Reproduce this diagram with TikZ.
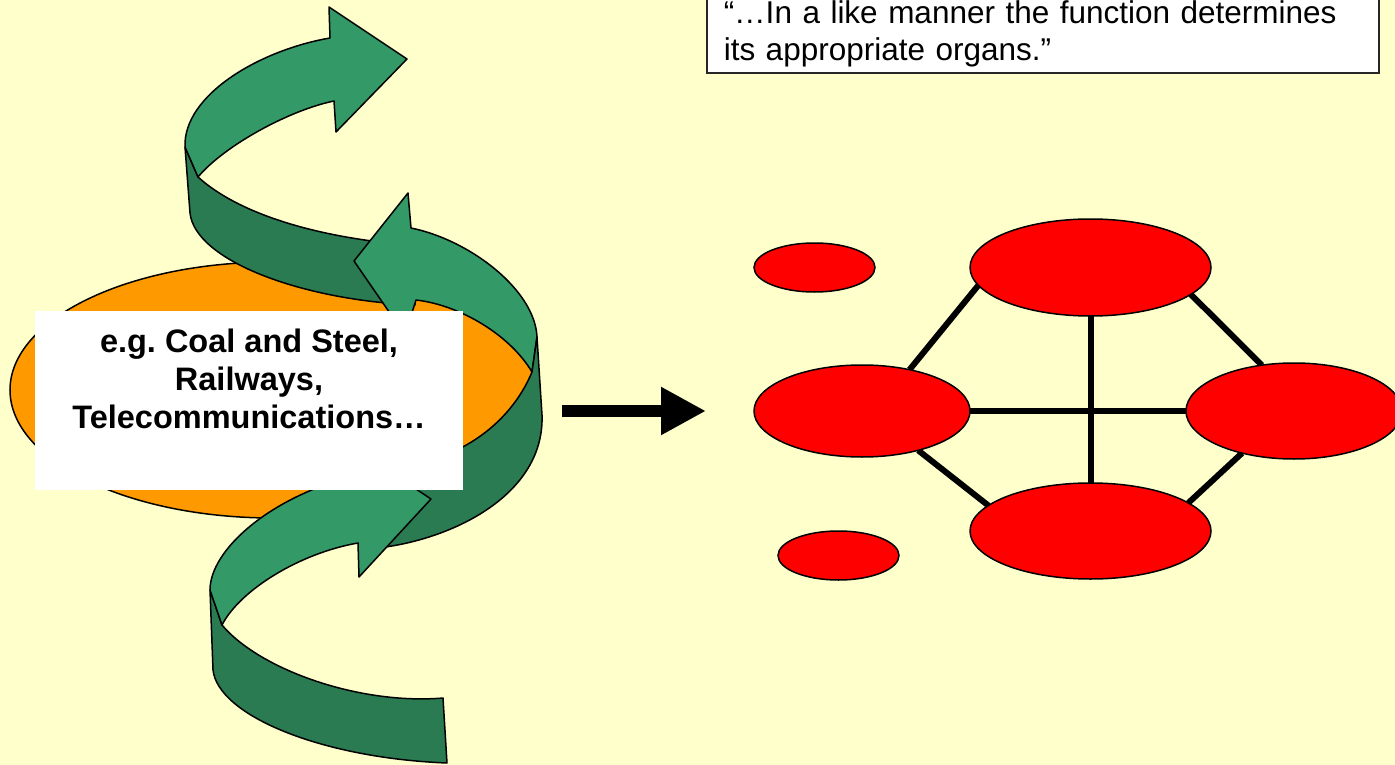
\documentclass[tikz,border=0pt]{standalone}
\usepackage{fontspec}
\setmainfont{Liberation Sans}
\usetikzlibrary{shapes.geometric,arrows.meta}
\definecolor{paper}{HTML}{FFFFCC}
\definecolor{leafgreen}{HTML}{339966}
\definecolor{shadegreen}{HTML}{2A7A52}
\definecolor{coreorange}{HTML}{FF9900}
\definecolor{organred}{HTML}{FF0000}
\pgfdeclarelayer{back}
\pgfsetlayers{back,main}
\tikzset{
organ/.style={ellipse, draw=black, line width=1.5pt, fill=organred, inner sep=0pt, outer sep=0pt},
link/.style={line width=6pt},
ribbon/.style={draw=black, line width=1.5pt, line join=round},
front/.style={ribbon, fill=leafgreen},
inside/.style={ribbon, fill=shadegreen},
quotebox/.style={draw=black!85, line width=1.5pt, fill=white, text width=638pt, inner xsep=17pt, inner ysep=6pt, align=left, font=\fontsize{31.5}{37}\selectfont},
extext/.style={inner sep=0pt, align=center, font=\fontsize{32.5}{38}\selectfont\bfseries}
}
\begin{document}
\begin{tikzpicture}[x=1pt, y=-1pt]
\useasboundingbox (0,0) rectangle (1395,765);
\begin{pgfonlayer}{back}
  \fill[paper] (0,0) rectangle (1395,765);
\end{pgfonlayer}

% left: the industry and its spiral
\node[ellipse, draw=black, line width=1.5pt, fill=coreorange, inner sep=0pt, minimum width=526pt, minimum height=256pt] (core) at (273,390) {};

\filldraw[inside] (185,147) -- (190,213)
  .. controls (195,260) and (300,300) .. (415,305)
  -- (410,245)
  .. controls (320,238) and (240,215) .. (198,177)
  -- cycle;
\filldraw[front] (330,38) -- (329,7) -- (407,59) -- (336,132) -- (334,101)
  .. controls (290,110) and (225,145) .. (198,177)
  -- (185,147)
  .. controls (183,95) and (260,50) .. (330,38)
  -- cycle;

\filldraw[front] (354,261) -- (408,193) -- (411,228)
  .. controls (470,240) and (535,290) .. (537,337)
  -- (532,372)
  .. controls (510,335) and (460,305) .. (416,300)
  -- (405,335) -- cycle;
\filldraw[inside] (537,337) -- (542,415)
  .. controls (545,500) and (440,545) .. (365,549)
  -- (380,468)
  .. controls (455,466) and (510,425) .. (532,372)
  -- cycle;

\filldraw[inside] (210,590) -- (213,670)
  .. controls (218,715) and (320,758) .. (447,763)
  -- (443,698)
  .. controls (360,705) and (260,670) .. (222,625)
  -- cycle;
\filldraw[front] (431,499) -- (359,577) -- (358,543)
  .. controls (300,553) and (240,590) .. (222,625)
  -- (210,590)
  .. controls (210,550) and (270,497) .. (354,476)
  -- (353,447) -- cycle;

\node[fill=white, inner sep=0pt, minimum width=428pt, minimum height=179pt] (exbox) at (249,400.5) {};
\node[extext, anchor=north] (examples) at (249,329) {e.g.\ Coal and Steel,\\Railways,\\Telecommunications…};

% arrow to the organs
\coordinate (shaftstart) at (562,411);
\coordinate (shaftend) at (706,411);
\draw[line width=12pt, -{Triangle[length=45pt, width=45pt]}] (shaftstart) -- (shaftend);

% right: the organs
\node[organ, minimum width=241pt, minimum height=97pt] (top) at (1090.5,267.5) {};
\node[organ, minimum width=216pt, minimum height=92pt] (left) at (862,411) {};
\node[organ, minimum width=216pt, minimum height=96pt] (right) at (1294,411) {};
\node[organ, minimum width=241pt, minimum height=96pt] (bottom) at (1090.5,531) {};
\node[organ, minimum width=121pt, minimum height=49pt] (smalltop) at (814.5,267.5) {};
\node[organ, minimum width=121pt, minimum height=49pt] (smallbottom) at (838.5,555.5) {};

\begin{pgfonlayer}{back}
  \draw[link] (top) -- (bottom);
  \draw[link] (left) -- (right);
  \draw[link] (top.189) -- (left.41);
  \draw[link] (top.345) -- (right.125);
  \draw[link] (left.325) -- (bottom.166);
  \draw[link] (right.219) -- (bottom.16);
\end{pgfonlayer}

\node[quotebox, anchor=south west] (quote) at (706,74) {“…In a like manner the function determines\\its appropriate organs.”};
\end{tikzpicture}
\end{document}
